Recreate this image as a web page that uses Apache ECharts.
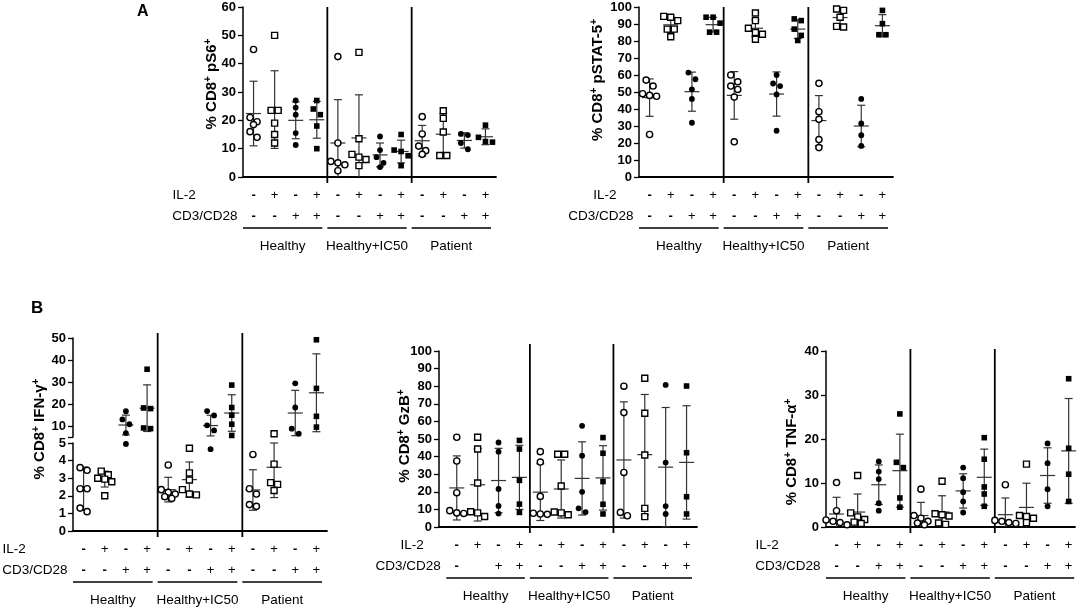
<!DOCTYPE html>
<html><head><meta charset="utf-8">
<script src="https://cdn.jsdelivr.net/npm/echarts@6.0.0/dist/echarts.min.js"></script>
<style>html,body{margin:0;padding:0;background:#fff}#c{width:1084px;height:611px}</style>
</head><body><div id="c"></div>
<script>
// ---------- data ----------
const groups = ['Healthy', 'Healthy+IC50', 'Patient'];
const il2Row = ['-','+','-','+','-','+','-','+','-','+','-','+'];
const cd3Row = ['-','-','+','+','-','-','+','+','-','-','+','+'];
const cd3RowGzB = ['-','','+','+','-','-','+','+','-','-','+','+'];

const pS6Points = [
 [45, 21, 19.5, 18.5, 16, 14],
 [50, 23.5, 23.5, 19, 15, 12],
 [27, 24.5, 22, 15.5, 11.3],
 [27, 24, 22, 18, 10],
 [42.5, 12, 5.5, 4.3, 5, 2.2],
 [44, 13.5, 8, 7, 6.2, 4],
 [14.3, 9.5, 7, 5, 3.5],
 [15, 9.5, 9, 7.5, 4],
 [21.3, 15.2, 10.9, 9.3, 8],
 [23.4, 20.7, 15.9, 7.6, 7.6],
 [15.2, 14.8, 12, 9.8],
 [18.3, 14, 12.5, 12.3]
];
const pS6Mean = [22.4, 23.8, 20, 20.2, 12, 13.8, 7.8, 9, 12.8, 15.1, 12.9, 14.2];
const pS6SD = [11.4, 13.7, 6.5, 6.5, 15.3, 15.2, 4.2, 4.0, 5.4, 7.3, 2.7, 2.8];

const pSTAT5Points = [
 [57, 53.5, 49, 48, 47.5, 25],
 [94.5, 94, 92, 87, 87, 82.5],
 [61.4, 57.5, 51.6, 45.9, 31.9],
 [94, 94, 90.5, 85.2, 85.2],
 [60, 56, 53.5, 51.5, 47, 20.7],
 [96.5, 92, 87.5, 85, 84, 81],
 [60, 55, 53.5, 48.6, 27.2],
 [93, 92, 87, 83.3, 80.3],
 [55.1, 38.4, 33.9, 22, 17.3],
 [98.8, 98, 94, 88.6, 88.2],
 [45.9, 31.5, 24.6, 18.3],
 [98, 90.2, 83.7, 83.7]
];
const pSTAT5Mean = [46.7, 89.5, 50.2, 89.6, 48, 87.5, 48.8, 87, 33.2, 93.8, 30, 89];
const pSTAT5SD = [11, 4.5, 11.5, 4.3, 14, 5, 13, 5.5, 14.7, 4.7, 12.2, 6.5];

const ifnPoints = [
 [3.6, 3.45, 2.4, 2.4, 1.3, 1.1],
 [3.4, 3.2, 3.0, 2.95, 2.8, 2.0],
 [16.7, 13, 10.8, 6.8, 4.95],
 [35.8, 18.2, 17.9, 9.1, 8.8],
 [3.75, 2.35, 2.2, 2.1, 1.95, 1.85],
 [4.7, 3.3, 2.9, 2.35, 2.1, 2.05],
 [16.8, 14.8, 10.3, 8, 4.65],
 [28.6, 18.4, 14.9, 10.8, 5.7],
 [4.35, 2.4, 2.1, 1.5, 1.4],
 [6.5, 3.8, 2.75, 2.65, 2.3],
 [29.4, 18.4, 8.8, 6.5],
 [49.2, 27.1, 14.4, 9.5]
];
const ifnMean = [2.4, 2.95, 10.45, 18.1, 2.35, 2.92, 10.2, 15.9, 2.33, 3.62, 15.9, 25.1];
const ifnSD = [1.23, 0.45, 4.5, 10.6, 0.7, 1.0, 4.7, 8.3, 1.15, 1.72, 10.3, 17.7];

const gzbPoints = [
 [51, 37.5, 19.5, 9.3, 8, 7.7],
 [51, 44.3, 25, 8.7, 8, 6],
 [48, 42.8, 21.6, 12, 7.6],
 [49.2, 44.3, 26.5, 13, 8.3],
 [42.8, 36.9, 17.4, 7.8, 7.4, 7.2],
 [41.3, 41.3, 23.3, 8.5, 8, 7],
 [57.5, 40.5, 20, 10.6, 8.5],
 [50.8, 41.9, 25.8, 12.9, 7.4],
 [80, 65, 31, 8.3, 6.4],
 [84.5, 64.6, 40.9, 10.6, 5.9],
 [80.7, 36.6, 11.9, 7.4],
 [80.1, 42.2, 17.2, 7.4]
];
const gzbMean = [22.2, 24, 26.4, 28.2, 19.8, 21.6, 27.6, 27.9, 38.1, 41.1, 34, 36.7];
const gzbSD = [18.2, 20.6, 18.3, 18.2, 16.1, 16.5, 20.8, 18.3, 33, 34.2, 33.9, 32.2];

const tnfPoints = [
 [10.1, 3.7, 1.6, 1.3, 1.0, 0.5],
 [11.7, 3.2, 2.3, 1.7, 1.1, 0.8],
 [14.9, 12.6, 10.9, 5.4, 3.7],
 [25.7, 14.7, 13.5, 6.6, 4.5],
 [8.6, 2.6, 2.0, 1.3, 0.9, 0.5],
 [10.4, 3.0, 2.8, 2.5, 0.9, 0.6],
 [13.5, 11.1, 7.9, 5.8, 3.3],
 [20.3, 15.4, 9.1, 7.5, 4.7],
 [9.6, 1.5, 1.3, 1.0, 0.8],
 [14.3, 2.6, 2.4, 2.0, 1.0],
 [19, 14.5, 8.6, 4.7],
 [33.7, 17.9, 12, 5.8]
];
const tnfMean = [2.95, 3.4, 9.6, 12.8, 2.6, 3.4, 8.2, 11.3, 2.8, 4.45, 11.7, 17.3];
const tnfSD = [3.8, 4.1, 4.5, 8.3, 3.0, 3.7, 3.9, 6.4, 3.8, 5.5, 6.3, 11.9];

// ---------- layout ----------
const FONT = '"Liberation Sans", Arial, Helvetica, sans-serif';
const panels = [
 { left:243, width:253, sepTop:7, xMin:-0.5, xMax:11.5,
   segs:[{top:7, height:170, min:0, max:60, interval:10}],
   name:'% CD8{s|+} pS6{s|+}', nameOff:31, nameY:84,
   points:pS6Points, mean:pS6Mean, sd:pS6SD, il2:il2Row, cd3:cd3Row, il2Mode:'left' },
 { left:639, width:254, sepTop:7, xMin:-0.5, xMax:11.5,
   segs:[{top:7, height:170, min:0, max:100, interval:10}],
   name:'% CD8{s|+} pSTAT-5{s|+}', nameOff:41, nameY:80,
   points:pSTAT5Points, mean:pSTAT5Mean, sd:pSTAT5SD, il2:il2Row, cd3:cd3Row, il2Mode:'right' },
 { left:73, width:254, sepTop:333, xMin:-0.5, xMax:11.5,
   segs:[{top:338, height:99, min:5, max:50, labels:[10,20,30,40,50], ticks:[5,10,20,30,40,50]},
         {top:443, height:88, min:0, max:5, interval:1}],
   name:'% CD8{s|+} IFN-γ{s|+}', nameOff:33, nameY:429,
   points:ifnPoints, mean:ifnMean, sd:ifnSD, il2:il2Row, cd3:cd3Row, il2Mode:'left' },
 { left:439, width:258, sepTop:344, xMin:-0.85, xMax:11.5,
   segs:[{top:351, height:176, min:0, max:100, interval:10}],
   name:'% CD8{s|+} GzB{s|+}', nameOff:34, nameY:436,
   points:gzbPoints, mean:gzbMean, sd:gzbSD, il2:il2Row, cd3:cd3RowGzB, il2Mode:'right' },
 { left:826, width:249, sepTop:349, xMin:-0.5, xMax:11.3,
   segs:[{top:351, height:176, min:0, max:40, interval:10}],
   name:'% CD8{s|+} TNF-α{s|+}', nameOff:34, nameY:452,
   points:tnfPoints, mean:tnfMean, sd:tnfSD, il2:il2Row, cd3:cd3Row, il2Mode:'left' }
];
const kinds = [
 {symbol:'circle', size:6.2, open:true},
 {symbol:'rect', size:6, open:true},
 {symbol:'circle', size:5.8, open:false},
 {symbol:'rect', size:5.6, open:false}
];

const chart = echarts.init(document.getElementById('c'), null, {renderer:'canvas', width:1084, height:611});
const grids = [], xAxes = [], yAxes = [];
panels.forEach(p => {
  p.segIdx = [];
  p.segs.forEach((s, si) => {
    const k = grids.length;
    p.segIdx.push(k);
    grids.push({left:p.left, width:p.width, top:s.top, height:s.height, containLabel:false, outerBoundsMode:'none'});
    const isBottom = si === p.segs.length - 1;
    xAxes.push({gridIndex:k, type:'value', min:p.xMin, max:p.xMax, position:'bottom',
      axisLine:{show:isBottom, onZero:false, lineStyle:{color:'#000', width:1.8}},
      axisTick:{show:false}, axisLabel:{show:false}, splitLine:{show:false}});
    const yl = {gridIndex:k, type:'value', min:s.min, max:s.max, position:'left',
      axisLine:{show:true, onZero:false, lineStyle:{color:'#000', width:1.5}},
      axisTick:{show:true, inside:false, length:5, lineStyle:{color:'#000', width:1.3}},
      axisLabel:{show:true, margin:7, fontSize:13, fontWeight:'bold', fontFamily:FONT, color:'#000'},
      splitLine:{show:false}};
    if (s.interval) yl.interval = s.interval;
    if (s.labels) { yl.axisLabel.customValues = s.labels; yl.axisTick.customValues = s.ticks; }
    yAxes.push(yl);
  });
  const b = p.segs[p.segs.length - 1];
  p.axisY = b.top + b.height;
  const k = grids.length;
  p.sepIdx = k;
  grids.push({left:p.left, width:p.width, top:p.sepTop, height:p.axisY + 6 - p.sepTop, containLabel:false, outerBoundsMode:'none'});
  xAxes.push({gridIndex:k, type:'value', min:p.xMin, max:p.xMax, show:false});
  yAxes.push({gridIndex:k, type:'value', min:0, max:1, show:false});
});

chart.setOption({animation:false, backgroundColor:'#fff', grid:grids, xAxis:xAxes, yAxis:yAxes, series:[]});

function swarm(pys, s) {
  const idx = pys.map((y, k) => k).sort((a, b) => pys[a] - pys[b]);
  const dx = new Array(pys.length).fill(0);
  let row = [];
  const flush = () => { const n = row.length; row.forEach((k, j) => { dx[k] = (j - (n - 1) / 2) * s; }); row = []; };
  idx.forEach(k => { if (row.length && pys[k] - pys[row[0]] >= s) flush(); row.push(k); });
  flush();
  return dx;
}

const series = [];
const graphics = [];
const txt = (x, y, text, font, align) => ({type:'text', x:x, y:y, silent:true,
  style:{text:text, fill:'#000', font:font, align:align || 'center', verticalAlign:'middle'}});
const ROWFONT = '13.5px ' + FONT;

panels.forEach(p => {
  const segOf = v => { for (let si = 0; si < p.segs.length; si++) { if (v > p.segs[si].min || si === p.segs.length - 1) return si; } };
  const buckets = p.segs.map(() => kinds.map(() => []));
  p.points.forEach((vals, i) => {
    const kind = i % 4;
    const pys = vals.map(v => chart.convertToPixel({yAxisIndex:p.segIdx[segOf(v)]}, v));
    const dx = swarm(pys, 7);
    vals.forEach((v, j) => buckets[segOf(v)][kind].push({value:[i, v], symbolOffset:[dx[j], 0]}));
  });
  p.segs.forEach((s, si) => {
    const k = p.segIdx[si];
    kinds.forEach((kd, ki) => {
      series.push({type:'scatter', xAxisIndex:k, yAxisIndex:k, data:buckets[si][ki], symbol:kd.symbol, symbolSize:kd.size,
        silent:true, z:3, itemStyle: kd.open ? {color:'#fff', borderColor:'#000', borderWidth:1.4, opacity:1} : {color:'#000', opacity:1}});
    });
    const errData = [];
    p.mean.forEach((m, i) => { if (segOf(m) === si) errData.push([i, m, p.sd[i]]); });
    series.push({type:'custom', xAxisIndex:k, yAxisIndex:k, z:2, silent:true, clip:false, data:errData,
      renderItem:(params, api) => {
        const i = api.value(0), m = api.value(1), sd = api.value(2);
        const hi = Math.min(m + sd, s.max), lo = Math.max(m - sd, s.min);
        const c = api.coord([i, m]), t = api.coord([i, hi]), b = api.coord([i, lo]);
        const st = {stroke:'#333', lineWidth:1.2};
        const ch = [
          {type:'line', shape:{x1:c[0], y1:t[1], x2:c[0], y2:b[1]}, style:st},
          {type:'line', shape:{x1:c[0]-7.5, y1:c[1], x2:c[0]+7.5, y2:c[1]}, style:st},
          {type:'line', shape:{x1:c[0]-4, y1:t[1], x2:c[0]+4, y2:t[1]}, style:st}
        ];
        if (lo > 0.001) ch.push({type:'line', shape:{x1:c[0]-4, y1:b[1], x2:c[0]+4, y2:b[1]}, style:st});
        return {type:'group', children:ch};
      }});
  });
  // group separators
  const sepData = [];
  for (let g = 1; g < groups.length; g++) sepData.push([g * 4 - 0.5, 0]);
  series.push({type:'custom', xAxisIndex:p.sepIdx, yAxisIndex:p.sepIdx, z:1, silent:true, clip:false, data:sepData,
    renderItem:(params, api) => {
      const a = api.coord([api.value(0), 0]), b = api.coord([api.value(0), 1]);
      return {type:'line', shape:{x1:a[0], y1:a[1], x2:b[0], y2:b[1]}, style:{stroke:'#000', lineWidth:1.8}};
    }});
  // y axis title (rotated, with superscripts)
  graphics.push({type:'text', x:p.left - p.nameOff, y:p.nameY, rotation:Math.PI / 2, silent:true,
    style:{text:p.name, fill:'#000', font:'bold 15px ' + FONT, align:'center', verticalAlign:'middle', lineHeight:18,
      rich:{s:{fill:'#000', font:'bold 10px ' + FONT, fontSize:10, fontWeight:'bold', fontFamily:FONT, verticalAlign:'top', lineHeight:11}}}});
  // condition rows and group labels
  const X = i => chart.convertToPixel({xAxisIndex:p.sepIdx}, i);
  const half = (X(1) - X(0)) / 2;
  const y0 = p.axisY;
  const symFont = t => (t === '-' ? 'bold 13px ' : '13px ') + FONT;
  p.il2.forEach((t, i) => graphics.push(txt(X(i), y0 + 18, t, symFont(t))));
  p.cd3.forEach((t, i) => { if (t) graphics.push(txt(X(i), y0 + 39, t, symFont(t))); });
  graphics.push(txt(X(0) - 16, y0 + 39, 'CD3/CD28', ROWFONT, 'right'));
  if (p.il2Mode === 'left') graphics.push(txt(X(0) - 16 - 65, y0 + 18, 'IL-2', ROWFONT, 'left'));
  else graphics.push(txt(X(0) - 33, y0 + 18, 'IL-2', ROWFONT, 'right'));
  groups.forEach((g, gi) => {
    const x1 = X(gi * 4) - half, x2 = X(gi * 4 + 3) + half - 5;
    graphics.push({type:'line', silent:true, shape:{x1:x1, y1:y0 + 51, x2:x2, y2:y0 + 51}, style:{stroke:'#000', lineWidth:1.5}});
    graphics.push(txt((x1 + x2) / 2, y0 + 69, g, ROWFONT));
  });
});
graphics.push(txt(137, 12, 'A', 'bold 16px ' + FONT, 'left'));
graphics.push(txt(31, 308, 'B', 'bold 17px ' + FONT, 'left'));

chart.setOption({series:series, graphic:graphics});
</script>
</body></html>
